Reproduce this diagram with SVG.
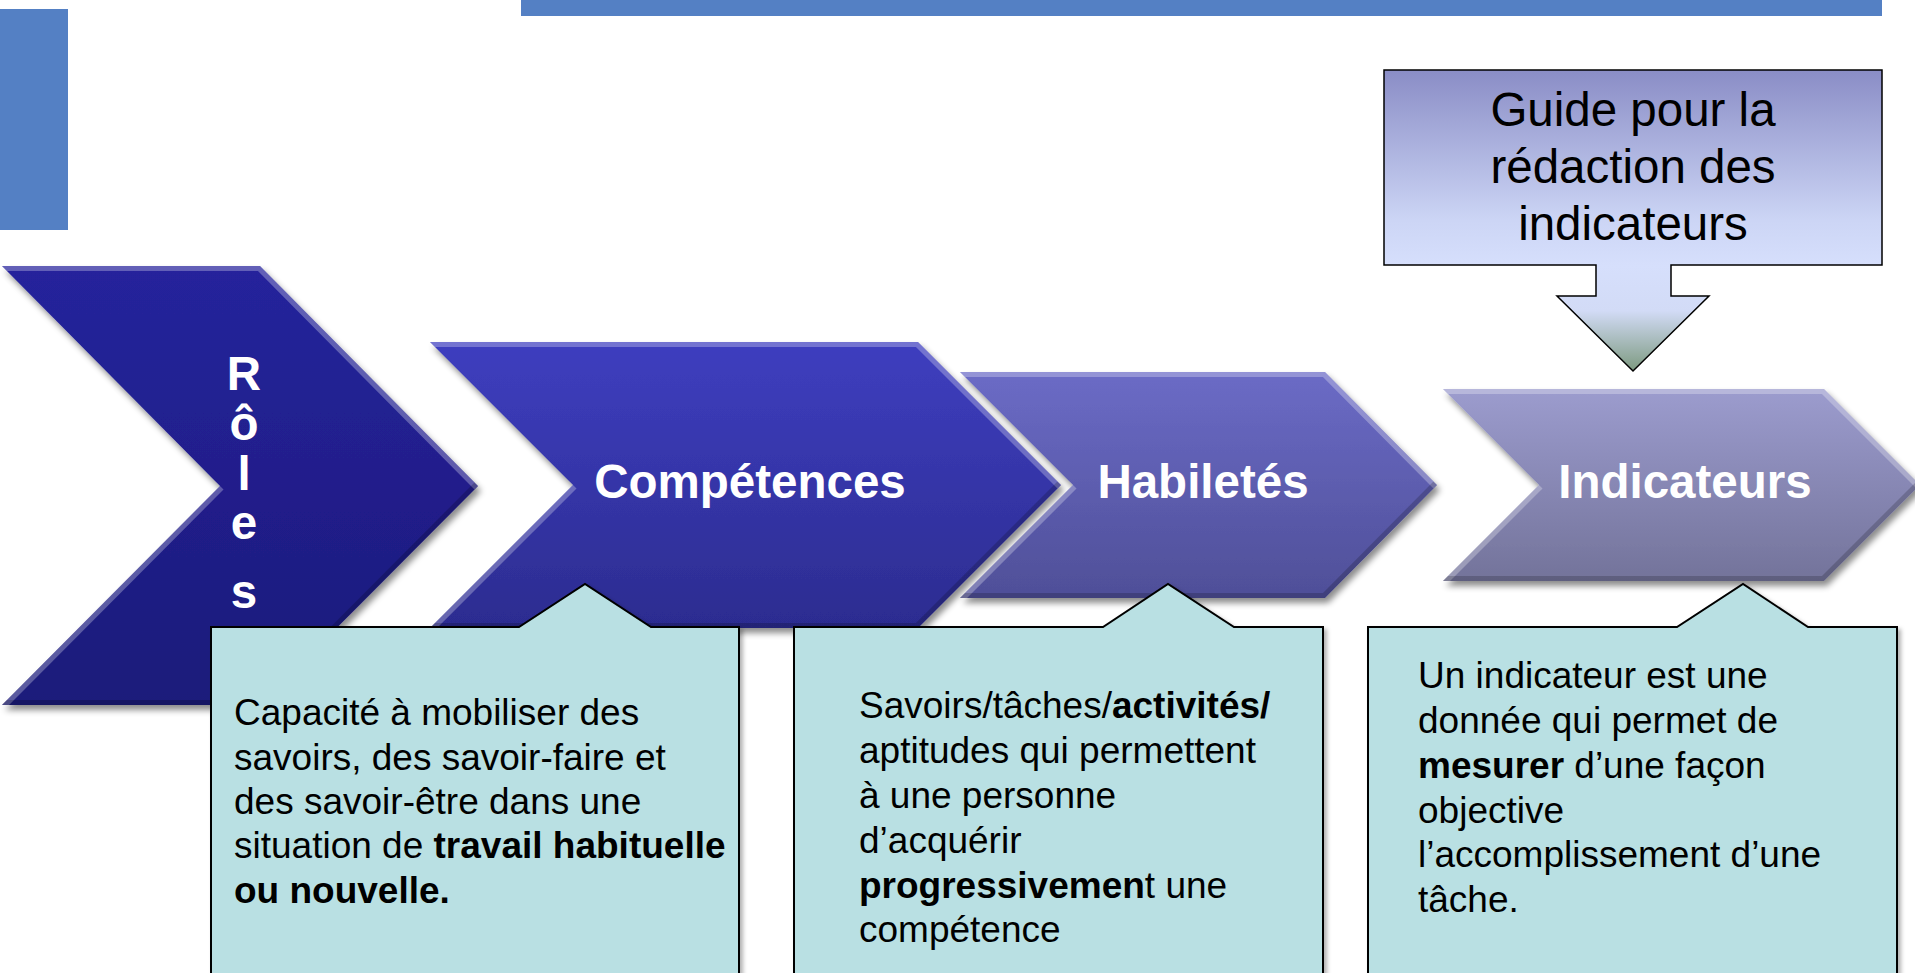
<svg xmlns="http://www.w3.org/2000/svg" width="1915" height="973" viewBox="0 0 1915 973">
<style>
.lbl{font-family:"Liberation Sans",Arial,sans-serif;font-weight:bold;font-size:47.5px;fill:#ffffff;text-anchor:middle}
.guide{font-family:"Liberation Sans",Arial,sans-serif;font-size:47.5px;fill:#000000;text-anchor:middle}
.body{font-family:"Liberation Sans",Arial,sans-serif;font-size:37px;fill:#000000}
.b{font-weight:bold}
.callout{fill:#b9e0e3;stroke:#000000;stroke-width:2}
.hi{fill:none;stroke:#ffffff;stroke-opacity:0.28;stroke-width:10;stroke-linejoin:miter}
.lo{fill:none;stroke:#000000;stroke-opacity:0.18;stroke-width:10;stroke-linejoin:miter}
.bar{fill:#5480c4}
</style>
<defs>
<filter id="sh" x="-5%" y="-5%" width="115%" height="120%">
<feDropShadow dx="3" dy="5" stdDeviation="3" flood-color="#000000" flood-opacity="0.45"/>
</filter>
<filter id="sh2" x="-5%" y="-5%" width="115%" height="115%">
<feDropShadow dx="3" dy="3" stdDeviation="2" flood-color="#000000" flood-opacity="0.3"/>
</filter>
<linearGradient id="gR" x1="0" y1="0" x2="0" y2="1">
<stop offset="0" stop-color="#25239c"/><stop offset="1" stop-color="#1c1a7a"/>
</linearGradient>
<linearGradient id="gC" x1="0" y1="0" x2="0" y2="1">
<stop offset="0" stop-color="#3e3ebf"/><stop offset="1" stop-color="#2c2c90"/>
</linearGradient>
<linearGradient id="gH" x1="0" y1="0" x2="0" y2="1">
<stop offset="0" stop-color="#6b6bc6"/><stop offset="1" stop-color="#4f4f98"/>
</linearGradient>
<linearGradient id="gI" x1="0" y1="0" x2="0" y2="1">
<stop offset="0" stop-color="#9c9cce"/><stop offset="1" stop-color="#73739a"/>
</linearGradient>
<linearGradient id="gG" gradientUnits="userSpaceOnUse" x1="0" y1="70" x2="0" y2="371">
<stop offset="0" stop-color="#8a8dc6"/><stop offset="0.5" stop-color="#ccd5f5"/><stop offset="0.65" stop-color="#d6dffc"/><stop offset="0.8" stop-color="#d2dbf6"/><stop offset="1" stop-color="#7d9a80"/>
</linearGradient>
<clipPath id="cR"><polygon points="2,266 260,266 478,486 260,705 2,705 220,486"/></clipPath>
<clipPath id="cC"><polygon points="430,342 918,342 1061,485 918,628 430,628 573,485"/></clipPath>
<clipPath id="cH"><polygon points="960,372 1325,372 1437,485 1325,598 960,598 1073,485"/></clipPath>
<clipPath id="cI"><polygon points="1443,389 1824,389 1920,485 1824,581 1443,581 1539,485"/></clipPath>
</defs>

<rect id="bar-left" class="bar" x="0" y="9" width="68" height="221"/>
<rect id="bar-top" class="bar" x="521" y="0" width="1361" height="16"/>

<g id="node-roles">
<polygon points="2,266 260,266 478,486 260,705 2,705 220,486" fill="url(#gR)" filter="url(#sh)"/>
<g clip-path="url(#cR)">
<polyline class="hi" points="2,266 260,266 478,486"/>
<polyline class="hi" points="220,486 2,705"/>
<polyline class="lo" points="478,486 260,705 2,705"/>
</g>
<text class="lbl" x="244" y="390">R</text>
<text class="lbl" x="244" y="440">ô</text>
<text class="lbl" x="244" y="490">l</text>
<text class="lbl" x="244" y="539">e</text>
<text class="lbl" x="244" y="608">s</text>
</g>

<g id="node-competences">
<polygon points="430,342 918,342 1061,485 918,628 430,628 573,485" fill="url(#gC)" filter="url(#sh)"/>
<g clip-path="url(#cC)">
<polyline class="hi" points="430,342 918,342 1061,485"/>
<polyline class="hi" points="573,485 430,628"/>
<polyline class="lo" points="1061,485 918,628 430,628"/>
</g>
<text class="lbl" x="750" y="498">Compétences</text>
</g>

<g id="node-habiletes">
<polygon points="960,372 1325,372 1437,485 1325,598 960,598 1073,485" fill="url(#gH)" filter="url(#sh)"/>
<g clip-path="url(#cH)">
<polyline class="hi" points="960,372 1325,372 1437,485"/>
<polyline class="hi" points="1073,485 960,598"/>
<polyline class="lo" points="1437,485 1325,598 960,598"/>
</g>
<text class="lbl" x="1203" y="498">Habiletés</text>
</g>

<g id="node-indicateurs">
<polygon points="1443,389 1824,389 1920,485 1824,581 1443,581 1539,485" fill="url(#gI)" filter="url(#sh)"/>
<g clip-path="url(#cI)">
<polyline class="hi" points="1443,389 1824,389 1920,485"/>
<polyline class="hi" points="1539,485 1443,581"/>
<polyline class="lo" points="1920,485 1824,581 1443,581"/>
</g>
<text class="lbl" x="1685" y="498">Indicateurs</text>
</g>

<g id="node-guide">
<polygon points="1384,70 1882,70 1882,265 1671,265 1671,296 1709,296 1633,371 1557,296 1596,296 1596,265 1384,265" fill="url(#gG)" stroke="#000000" stroke-width="1.5"/>
<text class="guide" x="1633" y="126">Guide pour la</text>
<text class="guide" x="1633" y="183">rédaction des</text>
<text class="guide" x="1633" y="240">indicateurs</text>
</g>

<g id="node-def-competences">
<polygon class="callout" filter="url(#sh2)" points="211,627 519,627 585,584 651,627 739,627 739,985 211,985"/>
<text class="body" x="234" y="725">Capacité à mobiliser des</text>
<text class="body" x="234" y="770">savoirs, des savoir-faire et</text>
<text class="body" x="234" y="814">des savoir-être dans une</text>
<text class="body" x="234" y="858">situation de <tspan class="b">travail habituelle</tspan></text>
<text class="body b" x="234" y="903">ou nouvelle.</text>
</g>

<g id="node-def-habiletes">
<polygon class="callout" filter="url(#sh2)" points="794,627 1103,627 1168,584 1234,627 1323,627 1323,985 794,985"/>
<text class="body" x="859" y="718">Savoirs/tâches/<tspan class="b">activités/</tspan></text>
<text class="body" x="859" y="763">aptitudes qui permettent</text>
<text class="body" x="859" y="808">à une personne</text>
<text class="body" x="859" y="853">d’acquérir</text>
<text class="body" x="859" y="898"><tspan class="b">progressivemen</tspan>t une</text>
<text class="body" x="859" y="942">compétence</text>
</g>

<g id="node-def-indicateurs">
<polygon class="callout" filter="url(#sh2)" points="1368,627 1677,627 1743,584 1808,627 1897,627 1897,985 1368,985"/>
<text class="body" x="1418" y="688">Un indicateur est une</text>
<text class="body" x="1418" y="733">donnée qui permet de</text>
<text class="body" x="1418" y="778"><tspan class="b">mesurer</tspan> d’une façon</text>
<text class="body" x="1418" y="823">objective</text>
<text class="body" x="1418" y="867">l’accomplissement d’une</text>
<text class="body" x="1418" y="912">tâche.</text>
</g>

<g id="connectors"></g>
</svg>
